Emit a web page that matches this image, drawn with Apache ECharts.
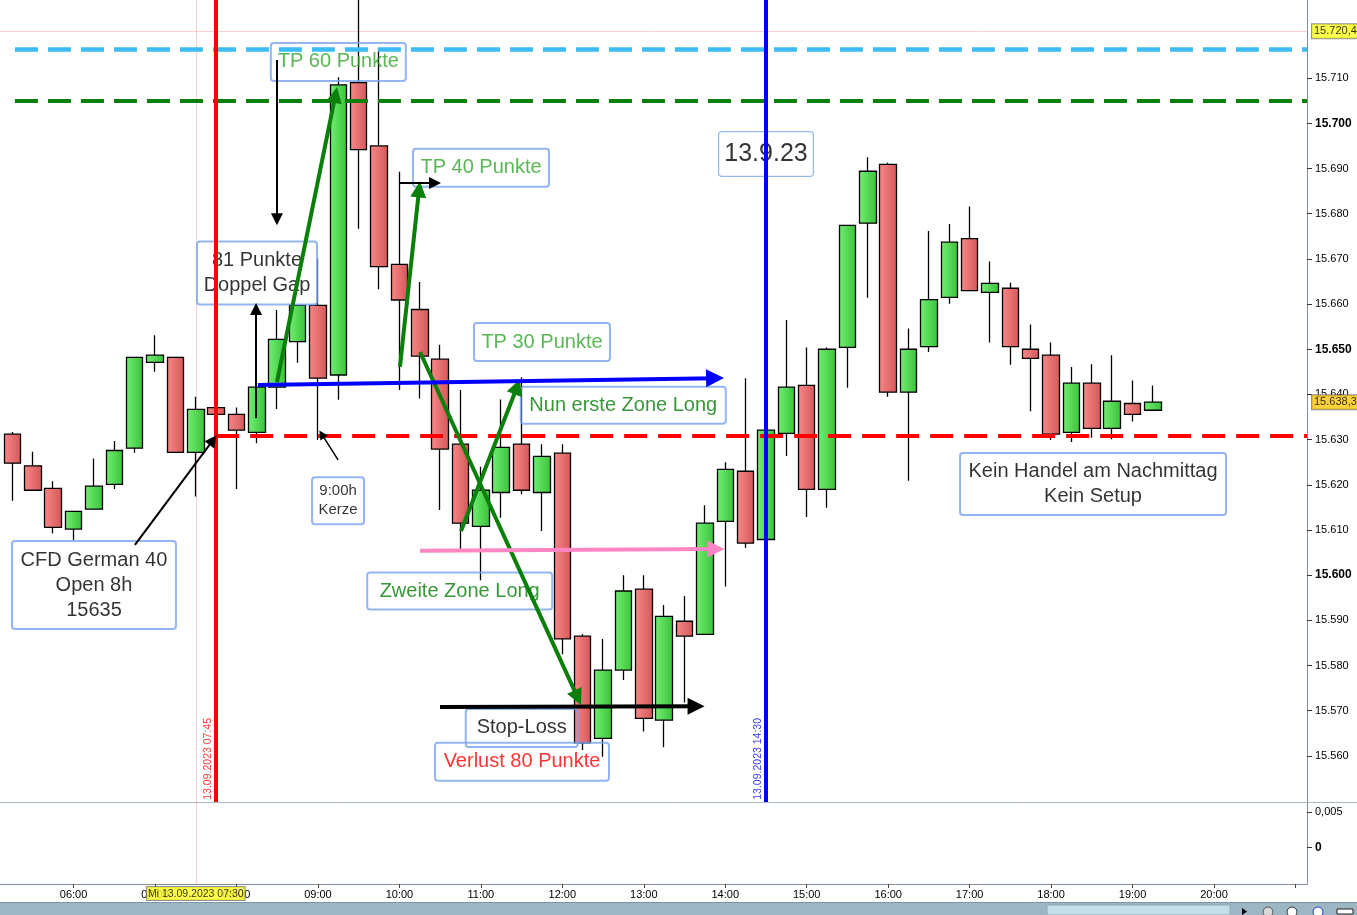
<!DOCTYPE html>
<html>
<head>
<meta charset="utf-8">
<script src="https://cdn.jsdelivr.net/npm/echarts@6.0.0/dist/echarts.min.js"></script>
<style>html,body{margin:0;padding:0;background:#fff;}#c{width:1357px;height:915px;}</style>
</head>
<body>
<div id="c"></div>
<script>
// ---------------- DATA ----------------
const times = ['05:15','05:30','05:45','06:00','06:15','06:30','06:45','07:00','07:15','07:30','07:45',
  '08:00','08:15','08:30','08:45','09:00','09:15','09:30','09:45','10:00','10:15','10:30','10:45',
  '11:00','11:15','11:30','11:45','12:00','12:15','12:30','12:45','13:00','13:15','13:30','13:45',
  '14:00','14:15','14:30','14:45','15:00','15:15','15:30','15:45','16:00','16:15','16:30','16:45',
  '17:00','17:15','17:30','17:45','18:00','18:15','18:30','18:45','19:00','19:15'];
const open  = [15631.2,15624.2,15619.2,15610.2,15614.6,15620.1,15628.1,15647.1,15648.2,15627.2,15637.1,
  15635.6,15631.6,15641.6,15651.7,15659.7,15644.3,15709.0,15695.0,15668.8,15658.8,15647.8,15629.0,
  15610.8,15618.3,15629.0,15618.3,15627.0,15586.5,15563.9,15579.0,15596.9,15567.9,15589.8,15586.9,
  15611.9,15623.0,15607.9,15631.4,15642.0,15619.0,15650.4,15677.9,15690.9,15640.5,15650.6,15661.5,
  15674.5,15662.6,15663.5,15650.0,15648.7,15631.6,15642.5,15632.5,15638.0,15636.5];
const close = [15624.8,15618.8,15610.6,15614.1,15619.7,15627.6,15648.2,15648.7,15627.2,15636.7,15635.6,
  15632.1,15641.6,15652.2,15659.7,15643.6,15708.5,15694.2,15668.3,15660.9,15648.5,15627.9,15611.5,
  15618.8,15628.3,15618.8,15626.3,15585.9,15562.9,15579.0,15596.5,15568.3,15590.9,15586.5,15611.5,
  15623.4,15607.1,15632.1,15641.6,15619.0,15650.0,15677.4,15689.4,15640.5,15650.0,15661.0,15673.7,
  15663.0,15664.6,15650.6,15648.0,15631.2,15642.5,15632.5,15638.5,15635.6,15638.3];
const low   = [15616.5,15618.8,15609.3,15607.8,15614.6,15619.1,15627.1,15645.0,15627.2,15617.4,15635.6,
  15619.1,15629.2,15636.8,15647.0,15629.9,15638.8,15676.7,15663.3,15641.0,15639.1,15614.4,15605.4,
  15598.9,15612.7,15617.9,15609.8,15582.5,15561.3,15559.8,15576.8,15565.4,15561.9,15571.8,15586.9,
  15597.5,15606.0,15607.0,15626.4,15612.9,15614.9,15641.5,15661.4,15639.5,15620.9,15649.4,15660.1,
  15663.0,15651.5,15646.6,15636.3,15629.9,15629.5,15630.4,15630.1,15634.0,15636.5];
const high  = [15631.7,15627.3,15620.8,15614.1,15625.8,15629.7,15648.2,15653.1,15648.2,15639.5,15637.1,
  15637.1,15641.6,15658.7,15659.7,15670.1,15710.2,15732.0,15716.6,15689.3,15664.9,15651.0,15641.0,
  15624.0,15638.9,15643.8,15629.0,15629.0,15586.9,15585.9,15600.0,15600.0,15593.4,15595.4,15615.5,
  15625.0,15643.6,15633.0,15656.5,15650.4,15650.4,15677.4,15692.5,15691.3,15654.6,15676.2,15677.7,
  15681.6,15669.4,15664.7,15655.5,15651.5,15646.1,15646.7,15648.7,15643.1,15642.0];

const hourLabels = ['06:00','07:00','08:00','09:00','10:00','11:00','12:00','13:00','14:00','15:00',
  '16:00','17:00','18:00','19:00','20:00'];
const hourTicks = ['06:00','07:00','08:00','09:00','10:00','11:00','12:00','13:00','14:00','15:00',
  '16:00','17:00','18:00','19:00','20:00','21:00'];
const priceTicks = [15560,15570,15580,15590,15600,15610,15620,15630,15640,15650,15660,15670,15680,15690,15700,15710];
const lowerTicks = [0, 0.005];

// horizontal levels: price, start time (minutes since midnight)
const levelPrices = [15716.4, 15705.1, 15630.8];
const levelStarts = [316.8, 316.8, 465];
// vertical markers (minutes)
const markerTimes = [465, 870];
const markerTexts = ['13.09.2023 07:45', '13.09.2023 14:30'];
const markerLabelTimes = [459, 864.1];
// cursor
const cursorTime = 450, cursorPrice = 15720.4, lastPrice = 15638.3;
const cursorText = 'Mi 13.09.2023 07:30';

// arrows: [[t1,p1],[t2,p2]]
const greenArrows = [
  [[509.8,15642.7],[552.9,15706.3]],
  [[600.4,15646.1],[614.5,15685.4]],
  [[615.2,15649.4],[731.3,15572.9]],
  [[645.4,15609.8],[686.7,15641.7]]
];
const blackThinArrows = [
  [[509.8,15714.0],[509.8,15678.8]],
  [[494.4,15634.8],[494.4,15658.9]],
  [[600.4,15686.8],[626.2,15686.8]],
  [[405.2,15606.7],[462.7,15629.9]]
];
const pointerArrow = [[554.8,15625.5],[542.8,15631.2]];
const blueArrow = [[495.8,15642.1],[832.5,15643.6]];
const pinkArrow = [[615.2,15605.4],[833.2,15605.8]];
const blackArrow = [[629.9,15570.8],[818.5,15571.0]];

// notes
const noteTexts = ['TP 60 Punkte','81 Punkte\nDoppel Gap','TP 40 Punkte','13.9.23','TP 30 Punkte',
  'Nun erste Zone Long','9:00h\nKerze','CFD German 40\nOpen 8h\n15635','Zweite Zone Long',
  'Stop-Loss','Verlust 80 Punkte','Kein Handel am Nachmittag\nKein Setup'];
const noteTimes  = [555.0, 495.1, 660.1, 870.0, 705.0, 764.9, 554.8, 375.0, 644.4, 690.1, 690.3, 1110.9];
const notePrices = [15713.6,15666.9,15690.2,15693.2,15651.6,15637.6,15616.5,15597.8,15596.5,15566.2,15558.7,15620.2];

// ---------------- STYLE ----------------
const FONT = "'Liberation Sans', Arial, Helvetica, sans-serif";
const X_MIN = 305.8, X_MAX = 1268.5;
const Y_MIN = 15549.8, Y_MAX = 15727.3;
const Y1_MIN = -0.00514, Y1_MAX = 0.00643;
const TPG = '#2fa52a', ZG = '#057d05';
const noteStyles = [
  {w:135,h:38,c:TPG,fs:20,lh:24},
  {w:120,h:63,c:'#000',fs:20,lh:25},
  {w:136,h:38,c:TPG,fs:20,lh:24},
  {w:94,h:44,c:'#000',fs:25,lh:30,bg:'#fff'},
  {w:136,h:38,c:TPG,fs:20,lh:24},
  {w:205,h:37,c:ZG,fs:20,lh:24},
  {w:52,h:47,c:'#000',fs:15,lh:19},
  {w:164,h:88,c:'#000',fs:20,lh:25},
  {w:185,h:37,c:ZG,fs:20,lh:24},
  {w:112,h:38,c:'#000',fs:20,lh:24},
  {w:174,h:38,c:'#ff0000',fs:20,lh:24},
  {w:266,h:62,c:'#000',fs:20,lh:25}
];

const toMin = s => { const [h,m] = s.split(':').map(Number); return h*60+m; };
const fmtHM = v => { const h = Math.floor(v/60), m = Math.round(v%60); return String(h).padStart(2,'0')+':'+String(m).padStart(2,'0'); };
const de = v => { const s = String(Math.round(v)); return s.slice(0,-3)+'.'+s.slice(-3); };
const deDec = (v,d) => { const s = v.toFixed(d).split('.'); return de(Number(s[0])) + ',' + s[1]; };

const candleData = times.map((t,i)=>[toMin(t), open[i], close[i], low[i], high[i]]);

const greenGrad = {type:'linear',x:0,y:0,x2:1,y2:0,colorStops:[{offset:0,color:'#74ee74'},{offset:1,color:'#38c238'}]};
const redGrad = {type:'linear',x:0,y:0,x2:1,y2:0,colorStops:[{offset:0,color:'#f68888'},{offset:1,color:'#d55858'}]};

function arrowSeries(list, color, width, size, z) {
  return {
    type:'lines', coordinateSystem:'cartesian2d', xAxisIndex:0, yAxisIndex:0, z:z||6, silent:true,
    symbol:['none','triangle'], symbolSize:size,
    lineStyle:{color:color, width:width, opacity:1, cap:'butt'},
    data: list.map(c=>({coords:c}))
  };
}

const levelStyles = [
  {color:'#3cbcf4', width:4.5, type:[23,10]},
  {color:'#0a800a', width:4, type:[23,10]},
  {color:'#ff0000', width:4, type:[23,11]}
];

const plainLabel = {textBorderWidth:0, textBorderColor:'transparent', textShadowBlur:0, textShadowColor:'transparent'};

const option = {
  animation:false,
  backgroundColor:'#ffffff',
  textStyle:{fontFamily:FONT},
  grid:[
    {left:0, top:0, width:1307, height:802},
    {left:0, top:802, width:1307, height:82}
  ],
  xAxis:[
    {type:'value', gridIndex:0, min:X_MIN, max:X_MAX, axisLine:{show:false, onZero:false}, axisTick:{show:false},
     axisLabel:{show:false}, splitLine:{show:false}},
    {type:'value', gridIndex:1, min:X_MIN, max:X_MAX, position:'bottom',
     axisLine:{show:true, onZero:false, lineStyle:{color:'#7f8e9a', width:1}},
     axisTick:{show:true, length:4, lineStyle:{color:'#444'}, customValues: hourTicks.map(toMin)},
     axisLabel:{show:true, customValues: hourLabels.map(toMin), formatter: v=>fmtHM(v), fontSize:11, color:'#000', margin:5, fontFamily:FONT},
     splitLine:{show:false}}
  ],
  yAxis:[
    {type:'value', gridIndex:0, position:'right', min:Y_MIN, max:Y_MAX,
     axisLine:{show:true, onZero:false, lineStyle:{color:'#7f8e9a', width:1}},
     axisTick:{show:true, length:5, lineStyle:{color:'#333'}, customValues: priceTicks},
     axisLabel:{show:true, customValues: priceTicks, margin:8, fontSize:11, color:'#000', fontFamily:FONT,
       formatter: v => (Math.round(v)%50===0 ? '{b|'+de(v)+'}' : de(v)),
       rich:{b:{fontWeight:'bold', fontSize:12, color:'#000', fontFamily:FONT}}},
     splitLine:{show:false}},
    {type:'value', gridIndex:1, position:'right', min:Y1_MIN, max:Y1_MAX,
     axisLine:{show:true, onZero:false, lineStyle:{color:'#7f8e9a', width:1}},
     axisTick:{show:true, length:5, lineStyle:{color:'#333'}, customValues: lowerTicks},
     axisLabel:{show:true, customValues: lowerTicks, margin:8, fontSize:11, color:'#000', fontFamily:FONT,
       formatter: v => (v===0 ? '{b|0}' : String(v).replace('.',',')),
       rich:{b:{fontWeight:'bold', fontSize:12, color:'#000', fontFamily:FONT}}},
     splitLine:{show:false}}
  ],
  graphic:[
    {type:'line', shape:{x1:0,y1:802.5,x2:1357,y2:802.5}, style:{stroke:'#a8b7c3', lineWidth:1}, z:1},
    {type:'rect', shape:{x:0,y:902,width:1357,height:13}, style:{fill:'#9db6c4'}, z:1},
    {type:'line', shape:{x1:0,y1:902.5,x2:1357,y2:902.5}, style:{stroke:'#7d95a4', lineWidth:1}, z:1},
    {type:'rect', shape:{x:1047,y:905,width:183,height:10}, style:{fill:'#c4dde9', stroke:'#8fa9b8'}, z:1},
    {type:'polygon', shape:{points:[[1242,908],[1242,915],[1247,911.5]]}, style:{fill:'#000'}, z:1},
    {type:'circle', shape:{cx:1268,cy:912,r:5}, style:{fill:'#d8d8d8', stroke:'#555'}, z:1},
    {type:'circle', shape:{cx:1292,cy:912,r:5}, style:{fill:'#fff', stroke:'#333'}, z:1},
    {type:'circle', shape:{cx:1318,cy:912,r:5}, style:{fill:'#fff', stroke:'#1e3cc8'}, z:1},
    {type:'rect', shape:{x:1337,y:909,width:16,height:5}, style:{fill:'#fff', stroke:'#222'}, z:1}
  ],
  series:[
    {
      type:'candlestick', xAxisIndex:0, yAxisIndex:0, z:2, barWidth:17,
      dimensions:['time','open','close','lowest','highest'],
      encode:{x:'time', y:['open','close','lowest','highest']},
      itemStyle:{color:greenGrad, color0:redGrad, borderColor:'#000', borderColor0:'#000', borderWidth:1.3},
      data:candleData
    },
    // cursor crosshair
    {
      type:'lines', coordinateSystem:'cartesian2d', xAxisIndex:0, yAxisIndex:0, z:1, silent:true, symbol:'none',
      lineStyle:{color:'rgba(235,110,110,0.65)', width:1},
      data:[{coords:[[cursorTime,Y_MIN],[cursorTime,Y_MAX]]},{coords:[[X_MIN,cursorPrice],[X_MAX,cursorPrice]]}]
    },
    {
      type:'lines', coordinateSystem:'cartesian2d', xAxisIndex:1, yAxisIndex:1, z:1, silent:true, symbol:'none',
      lineStyle:{color:'rgba(235,110,110,0.65)', width:1},
      data:[{coords:[[cursorTime,Y1_MIN],[cursorTime,Y1_MAX]]}]
    },
    // horizontal dashed levels
    {
      type:'lines', coordinateSystem:'cartesian2d', xAxisIndex:0, yAxisIndex:0, z:4, silent:true, symbol:'none',
      data: levelPrices.map((p,i)=>({coords:[[levelStarts[i],p],[X_MAX,p]], lineStyle:Object.assign({opacity:1}, levelStyles[i])}))
    },
    // vertical markers
    {
      type:'lines', coordinateSystem:'cartesian2d', xAxisIndex:0, yAxisIndex:0, z:4, silent:true, symbol:'none',
      data: markerTimes.map((t,i)=>({coords:[[t,Y_MIN],[t,Y_MAX]], lineStyle:{color: i===0?'#ff0000':'#0000ff', width:4, opacity:1}}))
    },
    // marker labels (vertical text)
    {
      type:'scatter', xAxisIndex:0, yAxisIndex:0, z:4, silent:true, symbolSize:0, clip:false,
      data: markerTexts.map((s,i)=>({value:[markerLabelTimes[i], Y_MIN+0.5],
        label:Object.assign({show:true, formatter:s, rotate:90, position:'inside', align:'left', verticalAlign:'middle',
          fontSize:10.5, color: i===0?'#ff0000':'#0000ff', fontFamily:FONT}, plainLabel)}))
    },
    // notes
    {
      type:'scatter', xAxisIndex:0, yAxisIndex:0, z:3, silent:true, symbolSize:0, clip:false,
      data: noteTexts.map((s,i)=>{
        const st = noteStyles[i];
        const n = s.split('\n').length;
        const pv = (st.h - n*st.lh)/2;
        return {value:[noteTimes[i], notePrices[i]],
          label:Object.assign({show:true, formatter:s, position:'inside', align:'center', verticalAlign:'middle',
            width:st.w, lineHeight:st.lh, fontSize:st.fs, color:st.c, fontFamily:FONT,
            padding:[pv,0,pv,0], borderColor:'#7aa3ef', borderWidth:1, borderRadius:3,
            backgroundColor: st.bg || 'transparent'}, plainLabel)};
      })
    },
    arrowSeries(greenArrows, '#0a7f0a', 4, 16, 6),
    arrowSeries(blackThinArrows, '#000', 2, 12, 6),
    arrowSeries([pointerArrow], '#000', 1.5, 9, 6),
    arrowSeries([blueArrow], '#0000ff', 4, 18, 6),
    arrowSeries([pinkArrow], '#ff86c4', 4, 17, 6),
    arrowSeries([blackArrow], '#000', 4, 17, 6),
    // right-axis price tags
    {
      type:'scatter', xAxisIndex:0, yAxisIndex:0, z:8, silent:true, symbolSize:0, clip:false,
      data:[
        {value:[X_MAX, cursorPrice], label:Object.assign({show:true, formatter:deDec(cursorPrice,1), position:'right', distance:5,
          backgroundColor:'#ffff22', borderColor:'#777', borderWidth:1, padding:[1,2,0,2], fontSize:11, lineHeight:13, color:'#000', fontFamily:FONT}, plainLabel)},
        {value:[X_MAX, lastPrice], label:Object.assign({show:true, formatter:deDec(lastPrice,1), position:'right', distance:5,
          backgroundColor:'#ffc70a', borderColor:'#777', borderWidth:1, padding:[1,2,0,2], fontSize:11, lineHeight:13, color:'#000', fontFamily:FONT}, plainLabel)}
      ]
    },
    // x-axis cursor tag
    {
      type:'scatter', xAxisIndex:1, yAxisIndex:1, z:8, silent:true, symbolSize:0, clip:false,
      data:[{value:[cursorTime, Y1_MIN], label:Object.assign({show:true, formatter:cursorText, position:'bottom', distance:3,
        backgroundColor:'#ffff22', borderColor:'#777', borderWidth:1, padding:[1,1,0,1], fontSize:10.5, lineHeight:12, color:'#000', fontFamily:FONT}, plainLabel)}]
    }
  ]
};

const chart = echarts.init(document.getElementById('c'), null, {renderer:'canvas', width:1357, height:915});
chart.setOption(option);
</script>
</body>
</html>
